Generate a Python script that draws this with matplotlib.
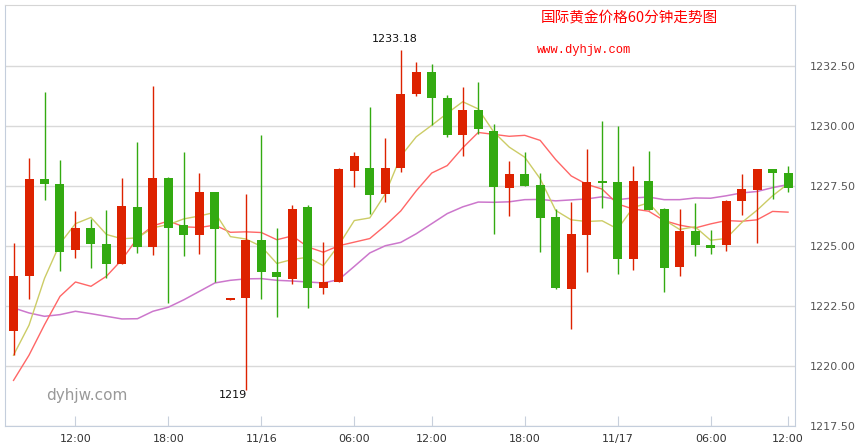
import matplotlib
matplotlib.use('Agg')
import matplotlib.pyplot as plt
import numpy as np

# hourly OHLC (red = up, green = down)
opens = [1221.44, 1223.74, 1227.81, 1227.60, 1224.82, 1225.76, 1225.10, 1224.24, 1226.64, 1224.94,
         1227.85, 1225.89, 1225.44, 1227.26, 1222.76, 1222.82, 1225.26, 1223.93, 1223.61, 1226.64,
         1223.24, 1223.49, 1228.11, 1228.26, 1227.15, 1228.24, 1231.32, 1232.26, 1231.18, 1229.61,
         1230.68, 1229.81, 1227.43, 1228.00, 1227.54, 1226.21, 1223.22, 1225.47, 1227.71, 1227.67,
         1224.47, 1227.71, 1226.56, 1224.11, 1225.64, 1225.06, 1225.03, 1226.86, 1227.35, 1228.22,
         1228.06]
highs = [1225.13, 1228.68, 1231.43, 1228.60, 1226.47, 1226.14, 1226.51, 1227.85, 1229.35, 1231.68,
         1227.89, 1228.93, 1228.06, 1227.26, 1222.82, 1227.18, 1229.64, 1225.76, 1226.69, 1226.69,
         1225.15, 1228.24, 1228.93, 1230.81, 1229.51, 1233.18, 1232.68, 1232.60, 1231.31, 1231.64,
         1231.85, 1230.10, 1228.54, 1228.92, 1228.04, 1226.54, 1226.83, 1229.04, 1230.21, 1230.00,
         1228.33, 1228.96, 1226.60, 1226.56, 1226.81, 1225.68, 1226.93, 1228.01, 1228.22, 1228.22,
         1228.35]
lows = [1220.47, 1222.81, 1226.93, 1223.97, 1224.49, 1224.07, 1223.67, 1224.24, 1224.69, 1224.61,
        1222.61, 1224.57, 1224.65, 1223.49, 1222.76, 1219.00, 1222.78, 1222.03, 1223.40, 1222.40,
        1222.99, 1223.49, 1227.44, 1226.35, 1226.82, 1228.07, 1231.24, 1230.04, 1229.53, 1228.74,
        1229.65, 1225.49, 1226.25, 1227.51, 1224.76, 1223.22, 1221.56, 1223.93, 1226.60, 1223.85,
        1224.01, 1226.51, 1223.10, 1223.74, 1224.57, 1224.65, 1224.78, 1226.28, 1225.11, 1226.97,
        1227.24]
closes = [1223.76, 1227.81, 1227.57, 1224.74, 1225.76, 1225.07, 1224.24, 1226.68, 1224.94, 1227.85,
          1225.74, 1225.44, 1227.26, 1225.69, 1222.82, 1225.26, 1223.90, 1223.69, 1226.56, 1223.24,
          1223.51, 1228.22, 1228.76, 1227.11, 1228.26, 1231.35, 1232.26, 1231.15, 1229.61, 1230.68,
          1229.86, 1227.44, 1228.00, 1227.51, 1226.18, 1223.26, 1225.50, 1227.67, 1227.64, 1224.47,
          1227.71, 1226.51, 1224.10, 1225.64, 1225.03, 1224.90, 1226.89, 1227.39, 1228.22, 1228.03,
          1227.40]

# moving average lines as drawn on the chart
ma5 = [1220.45, 1221.70, 1223.65, 1225.10, 1225.93, 1226.19, 1225.48, 1225.30, 1225.34, 1225.76,
       1225.89, 1226.13, 1226.25, 1226.40, 1225.39, 1225.29, 1224.98, 1224.27, 1224.44, 1224.53,
       1224.18, 1225.04, 1226.06, 1226.17, 1227.17, 1228.74, 1229.55, 1230.03, 1230.53, 1231.01,
       1230.71, 1229.75, 1229.12, 1228.70, 1227.80, 1226.48, 1226.09, 1226.02, 1226.05, 1225.71,
       1226.60, 1226.80, 1226.09, 1225.69, 1225.80, 1225.24, 1225.31, 1225.97, 1226.49, 1227.09,
       1227.59]
ma10 = [1219.40, 1220.45, 1221.72, 1222.90, 1223.50, 1223.32, 1223.74, 1224.43, 1225.33, 1225.84,
        1226.04, 1225.80, 1225.77, 1225.87, 1225.57, 1225.59, 1225.56, 1225.26, 1225.42, 1224.96,
        1224.74, 1225.01, 1225.16, 1225.31, 1225.85, 1226.46, 1227.30, 1228.04, 1228.35, 1229.09,
        1229.73, 1229.65, 1229.57, 1229.61, 1229.40, 1228.60, 1227.92, 1227.57, 1227.37, 1226.75,
        1226.54, 1226.45, 1226.06, 1225.87, 1225.75, 1225.92, 1226.06, 1226.03, 1226.09, 1226.44,
        1226.41]
ma30 = [1222.42, 1222.21, 1222.07, 1222.14, 1222.28, 1222.18, 1222.07, 1221.96, 1221.97, 1222.28,
        1222.45, 1222.76, 1223.11, 1223.46, 1223.57, 1223.63, 1223.64, 1223.57, 1223.54, 1223.50,
        1223.46, 1223.60, 1224.15, 1224.71, 1225.01, 1225.15, 1225.51, 1225.93, 1226.35, 1226.63,
        1226.83, 1226.82, 1226.84, 1226.93, 1226.94, 1226.88, 1226.92, 1226.96, 1227.05, 1226.93,
        1227.00, 1227.04, 1226.93, 1226.93, 1227.00, 1226.99, 1227.09, 1227.21, 1227.27, 1227.43,
        1227.56]

tick_idx = [4, 10, 16, 22, 27, 33, 39, 45, 50]
tick_labels = ['12:00', '18:00', '11/16', '06:00', '12:00', '18:00', '11/17', '06:00', '12:00']
y_ticks = [1217.5, 1220.0, 1222.5, 1225.0, 1227.5, 1230.0, 1232.5]

UP = '#dd2200'
DOWN = '#33aa11'

fig = plt.figure(figsize=(8.61, 4.48), dpi=100)
ax = fig.add_axes([5 / 861, 22 / 448, 790 / 861, 421 / 448])

o = np.array(opens)
c = np.array(closes)
h = np.array(highs)
l = np.array(lows)
x = np.arange(len(o))
cols = [UP if cc >= oo else DOWN for oo, cc in zip(o, c)]

# moving averages
ax.plot(x, ma30, color='#cc77cc', lw=1.1, zorder=2)
ax.plot(x, ma10, color='#ff6666', lw=1.0, zorder=2)
ax.plot(x, ma5, color='#cccc66', lw=1.0, zorder=2)

# candles
ax.vlines(x, l, h, colors=cols, lw=1.0, zorder=3)
bottom = np.minimum(o, c)
height = np.maximum(np.abs(c - o), 0.08)
ax.bar(x, height, bottom=bottom, width=0.58, color=cols, zorder=4)

# max / min labels
imax = int(np.argmax(h))
imin = int(np.argmin(l))
ax.annotate(f'{h[imax]:g}', xy=(imax, h[imax]), xytext=(-4, 4), textcoords='offset points',
            ha='center', va='bottom', fontsize=8, color='#111111')
ax.annotate(f'{l[imin]:g}', xy=(imin, l[imin]), xytext=(-9, 0), textcoords='offset points',
            ha='center', va='top', fontsize=8, color='#111111')

ax.set_xlim(-0.55, 50.45)
ax.set_ylim(1217.5, 1235.04)

ax.set_yticks(y_ticks)
ax.set_yticklabels([f'{v:.2f}' for v in y_ticks])
ax.yaxis.tick_right()
ax.tick_params(axis='y', length=0, pad=11, labelsize=8, labelcolor='#555555')
ax.grid(axis='y', color='#d9d9d9', lw=1)
ax.set_axisbelow(True)

ax.set_xticks(tick_idx)
ax.set_xticklabels(tick_labels)
ax.tick_params(axis='x', direction='in', length=7, color='#c8d0dc', pad=6,
               labelsize=8, labelcolor='#333333')

for side in ['left', 'bottom', 'right']:
    ax.spines[side].set_color('#c4cedc')
ax.spines['top'].set_color('#d5d5d5')

fig.text(629 / 861, 1 - 18 / 448, '国际黄金价格60分钟走势图', color='#ff0000', fontsize=10.5,
         ha='center', va='center', family=['Noto Sans CJK SC', 'DejaVu Sans'])
fig.text(537 / 861, 1 - 50 / 448, 'www.dyhjw.com', color='#ff0000', fontsize=8.7,
         ha='left', va='center', family='Liberation Mono')
fig.text(46 / 861, 1 - 395 / 448, 'dyhjw.com', color='#999999', fontsize=11,
         ha='left', va='center')

fig.savefig('out.png', dpi=100)
